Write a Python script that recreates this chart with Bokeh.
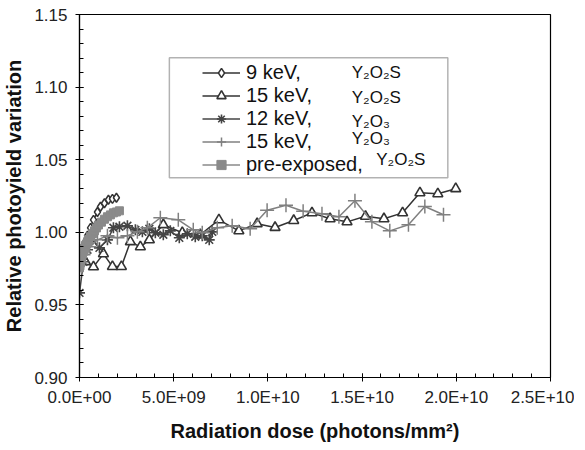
from bokeh.plotting import figure
from bokeh.models import (Legend, LegendItem, Label, BoxAnnotation, Range1d,
                          FixedTicker, CustomJSTickFormatter)
from bokeh.embed import file_html
from bokeh.resources import INLINE

# ---- data (dose in photons/mm^2, relative photoyield) ----
kev9_x = [0.02e9, 0.106e9, 0.212e9, 0.318e9, 0.424e9, 0.583e9, 0.742e9, 0.953e9, 1.112e9, 1.324e9,
          1.536e9, 1.748e9, 1.960e9]
kev9_y = [0.980, 0.9845, 0.989, 0.993, 0.9976, 1.003, 1.0086, 1.014, 1.0176, 1.020, 1.0224, 1.023, 1.0238]

kev15a_x = [0.02e9, 0.318e9, 0.742e9, 1.271e9, 1.748e9, 2.225e9, 2.701e9, 3.231e9, 3.708e9, 4.449e9,
            5.456e9, 6.409e9, 7.40e9, 8.459e9, 9.429e9, 10.38e9, 11.37e9, 12.34e9, 13.30e9, 14.20e9,
            15.18e9, 16.16e9, 17.15e9, 18.07e9, 19.02e9, 19.97e9]
kev15a_y = [0.9824, 0.9797, 0.9762, 0.9852, 0.9764, 0.9764, 0.9935, 0.990, 0.9948, 1.0052, 0.9997, 0.9983,
            1.0086, 1.001, 1.0059, 1.0033, 1.0081, 1.0134, 1.0093, 1.0072, 1.011, 1.0093, 1.0134,
            1.0272, 1.0265, 1.030]

kev12_x = [0.0, 0.212e9, 0.424e9, 0.689e9, 1.059e9, 1.483e9, 1.801e9, 2.119e9, 2.543e9, 2.966e9, 3.337e9,
           3.708e9, 4.026e9, 4.449e9, 4.820e9, 5.297e9, 5.721e9, 6.145e9, 6.515e9, 6.886e9, 7.045e9]
kev12_y = [0.9583, 0.9797, 0.988, 0.9948, 0.9893, 0.9948, 1.0031, 1.0038, 1.0045, 1.0017, 1.0003, 1.0024,
           0.9997, 0.9983, 1.001, 0.9962, 0.999, 0.9969, 0.9976, 0.9948, 1.0003]

kev15b_x = [0.0, 0.212e9, 0.530e9, 0.953e9, 1.483e9, 2.013e9, 2.543e9, 3.072e9, 3.602e9, 4.291e9, 5.244e9,
            6.039e9, 6.515e9, 7.310e9, 8.104e9, 9.058e9, 9.958e9, 10.96e9, 11.87e9, 12.87e9, 13.77e9,
            14.62e9, 15.52e9, 16.47e9, 17.46e9, 18.33e9, 19.32e9]
kev15b_y = [0.9797, 0.9845, 0.990, 0.9948, 0.9976, 0.9962, 0.9976, 1.0003, 1.0031, 1.010, 1.0086, 1.0017,
            0.9997, 1.0031, 1.0045, 1.0024, 1.0152, 1.0186, 1.0145, 1.0127, 1.0107, 1.0217,
            1.0072, 1.001, 1.0052, 1.0178, 1.0121]

pre_x = [0.0, 0.026e9, 0.053e9, 0.079e9, 0.106e9, 0.159e9, 0.212e9, 0.265e9, 0.318e9, 0.371e9, 0.424e9,
         0.477e9, 0.583e9, 0.689e9, 0.795e9, 0.901e9, 1.006e9, 1.165e9, 1.324e9, 1.483e9, 1.642e9,
         1.801e9, 1.960e9, 2.119e9]
pre_y = [0.9755, 0.9769, 0.979, 0.981, 0.983, 0.985, 0.987, 0.989, 0.991, 0.992, 0.9935, 0.995,
         0.997, 0.999, 1.001, 1.003, 1.005, 1.007, 1.009, 1.0107, 1.012, 1.0134, 1.014, 1.0148]

x_ticks = [0, 5e9, 1e10, 1.5e10, 2e10, 2.5e10]
y_ticks = [0.90, 0.95, 1.00, 1.05, 1.10, 1.15]

labels = ["9 keV,", "15 keV,", "12 keV,", "15 keV,", "pre-exposed,"]
formulas = ["Y\u2082O\u2082S", "Y\u2082O\u2082S", "Y\u2082O\u2083", "Y\u2082O\u2083", "Y\u2082O\u2082S"]
formula_x = [1.445e10, 1.445e10, 1.445e10, 1.445e10, 1.575e10]
formula_y = [1.1099, 1.0927, 1.0761, 1.0644, 1.050]

FONT = "Liberation Sans"

p = figure(output_backend="svg", toolbar_location=None,
           x_range=Range1d(0, 2.5e10), y_range=Range1d(0.90, 1.15),
           frame_width=471, frame_height=363,
           min_border_left=74, min_border_right=24, min_border_top=14, min_border_bottom=56)
p.grid.visible = False
p.outline_line_color = "black"
p.outline_line_width = 1.2
p.background_fill_color = "white"
p.border_fill_color = "white"

# axes
p.xaxis.ticker = FixedTicker(ticks=x_ticks, minor_ticks=[i * 1e9 for i in range(26)])
p.yaxis.ticker = FixedTicker(ticks=y_ticks, minor_ticks=[0.90 + i * 0.01 for i in range(26)])
p.xaxis.formatter = CustomJSTickFormatter(code="""
    const s = tick.toExponential(1).toUpperCase();
    const parts = s.split('E');
    const sign = parts[1][0];
    let d = parts[1].slice(1);
    if (d.length < 2) d = '0' + d;
    return parts[0] + 'E' + sign + d;
""")
p.yaxis.formatter = CustomJSTickFormatter(code="return tick.toFixed(2);")
for ax in (p.xaxis[0], p.yaxis[0]):
    ax.axis_line_color = "black"
    ax.axis_line_width = 1.2
    ax.major_tick_line_color = "black"
    ax.minor_tick_line_color = "black"
    ax.major_tick_in = 4
    ax.major_tick_out = 4
    ax.minor_tick_in = 4
    ax.minor_tick_out = 0
    ax.major_label_text_font = FONT
    ax.major_label_text_font_size = "17px"
    ax.major_label_text_color = "#222222"
    ax.axis_label_text_font = FONT
    ax.axis_label_text_font_style = "bold"
    ax.axis_label_text_font_size = "20px"
    ax.axis_label_text_color = "#111111"
p.xaxis.axis_label = "Radiation dose (photons/mm\u00b2)"
p.yaxis.axis_label = "Relative photoyield variation"
p.xaxis.major_label_standoff = 6
p.yaxis.major_label_standoff = 8
p.xaxis.axis_label_standoff = 10
p.yaxis.axis_label_standoff = 6

# series
l1 = p.line(kev9_x, kev9_y, line_color="#333333", line_width=1.5)
s1 = p.scatter(kev9_x, kev9_y, marker="diamond", size=9, line_color="#333333",
               fill_color="white", line_width=1.5)
l2 = p.line(kev15a_x, kev15a_y, line_color="#333333", line_width=1.5)
s2 = p.scatter(kev15a_x, kev15a_y, marker="triangle", size=10, line_color="#333333",
               fill_color="white", line_width=1.6)
l3 = p.line(kev12_x, kev12_y, line_color="#444444", line_width=1.5)
s3 = p.scatter(kev12_x, kev12_y, marker="asterisk", size=11, line_color="#444444", line_width=1.6)
l4 = p.line(kev15b_x, kev15b_y, line_color="#808080", line_width=1.5)
s4 = p.scatter(kev15b_x, kev15b_y, marker="cross", size=14, line_color="#808080", line_width=1.5)
l5 = p.line(pre_x, pre_y, line_color="#8a8a8a", line_width=1.5)
s5 = p.scatter(pre_x, pre_y, marker="square", size=8, line_color="#8a8a8a", fill_color="#8a8a8a")

# legend box
box = BoxAnnotation(left=4.77e9, right=1.955e10, top=1.1202, bottom=1.0376,
                    fill_color="white", fill_alpha=1.0, line_color="black", line_width=1.5,
                    level="overlay")
p.add_layout(box)

items = [LegendItem(label=labels[0], renderers=[l1, s1]),
         LegendItem(label=labels[1], renderers=[l2, s2]),
         LegendItem(label=labels[2], renderers=[l3, s3]),
         LegendItem(label=labels[3], renderers=[l4, s4]),
         LegendItem(label=labels[4], renderers=[l5, s5])]
legend = Legend(items=items, location=(123, 201), padding=0, margin=0, spacing=0,
                glyph_width=38, glyph_height=23, label_height=23, label_standoff=6,
                label_text_font=FONT, label_text_font_size="20px", label_text_color="#111111",
                border_line_alpha=0, background_fill_alpha=0)
p.add_layout(legend)

for t, fx, fy in zip(formulas, formula_x, formula_y):
    p.add_layout(Label(x=fx, y=fy, text=t, text_font=FONT, text_font_size="17px",
                       text_baseline="middle", text_color="#111111", level="overlay"))

open("out.html", "w").write(file_html(p, INLINE))
